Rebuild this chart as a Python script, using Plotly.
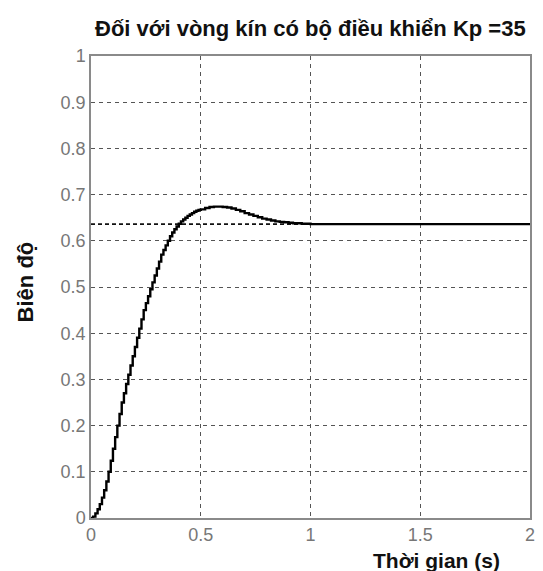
import plotly.graph_objects as go

# Step response
time_s = [0.00, 0.01, 0.02, 0.03, 0.04, 0.05, 0.06, 0.07, 0.08, 0.09,
          0.10, 0.11, 0.12, 0.13, 0.14, 0.15, 0.16, 0.17, 0.18, 0.19,
          0.20, 0.21, 0.22, 0.23, 0.24, 0.25, 0.26, 0.27, 0.28, 0.29,
          0.30, 0.31, 0.32, 0.33, 0.34, 0.35, 0.36, 0.37, 0.38, 0.39,
          0.40, 0.41, 0.42, 0.43, 0.44, 0.45, 0.46, 0.47, 0.48, 0.49,
          0.50, 0.52, 0.54, 0.56, 0.58,
          0.60, 0.62, 0.64, 0.66, 0.68, 0.70, 0.72, 0.74, 0.76, 0.78,
          0.80, 0.82, 0.84, 0.86, 0.88, 0.90, 0.92, 0.94, 0.96, 0.98,
          1.00, 2.00]
amplitude = [0.000, 0.003, 0.010, 0.019, 0.030, 0.044, 0.060, 0.079, 0.100, 0.124,
             0.150, 0.175, 0.200, 0.225, 0.250, 0.270, 0.290, 0.310, 0.330, 0.350,
             0.370, 0.390, 0.410, 0.430, 0.450, 0.465, 0.480, 0.495, 0.510, 0.525,
             0.540, 0.555, 0.570, 0.580, 0.590, 0.600, 0.610, 0.618, 0.625, 0.631,
             0.637, 0.642, 0.646, 0.650, 0.654, 0.657, 0.660, 0.663, 0.665, 0.667,
             0.668, 0.671, 0.673, 0.674, 0.674,
             0.673, 0.672, 0.670, 0.667, 0.664, 0.660, 0.657, 0.654, 0.651, 0.648,
             0.646, 0.644, 0.642, 0.641, 0.640, 0.639, 0.638, 0.638, 0.637, 0.637,
             0.636, 0.636]
steady_x = [0, 2]
steady_y = [0.636, 0.636]

x_ticks = [0, 0.5, 1, 1.5, 2]
x_tick_text = ["0", "0.5", "1", "1.5", "2"]
y_ticks = [0, 0.1, 0.2, 0.3, 0.4, 0.5, 0.6, 0.7, 0.8, 0.9, 1]
y_tick_text = ["0", "0.1", "0.2", "0.3", "0.4", "0.5", "0.6", "0.7", "0.8", "0.9", "1"]

title_text = "Đối với vòng kín có bộ điều khiển Kp =35"
x_title = "Thời gian (s)"
y_title = "Biên độ"

FONT = "Arial, 'Liberation Sans', sans-serif"

fig = go.Figure()
fig.add_trace(go.Scatter(x=steady_x, y=steady_y, mode="lines",
                         line=dict(color="#111111", width=1.6, dash="4px,3px"),
                         hoverinfo="skip", showlegend=False))
fig.add_trace(go.Scatter(x=time_s, y=amplitude, mode="lines", line_shape="hv",
                         line=dict(color="#000000", width=2.4), showlegend=False))

# page body has an 8px default margin: figure is sized/offset to compensate
fig.update_layout(
    width=535, height=563,
    margin=dict(l=83, r=8, t=48, b=53),
    paper_bgcolor="white", plot_bgcolor="white",
    font=dict(family=FONT, color="#777777", size=18),
    showlegend=False,
    annotations=[
        dict(text="<b>" + title_text + "</b>", xref="paper", yref="paper",
             x=0.5, y=1, yshift=28, xanchor="center", yanchor="middle",
             showarrow=False, font=dict(family=FONT, size=22, color="#111111")),
        dict(text="<b>" + x_title + "</b>", xref="paper", yref="paper",
             x=0.786, y=0, yshift=-42, xanchor="center", yanchor="middle",
             showarrow=False, font=dict(family=FONT, size=21, color="#111111")),
        dict(text="<b>" + y_title + "</b>", xref="paper", yref="paper",
             x=0, xshift=-66, y=0.51, xanchor="center", yanchor="middle",
             textangle=-90, showarrow=False,
             font=dict(family=FONT, size=22, color="#111111")),
    ],
)
fig.update_xaxes(range=[0, 2], tickvals=x_ticks, ticktext=x_tick_text,
                 showgrid=True, gridcolor="#555555", griddash="4px,4px", gridwidth=1,
                 showline=True, linecolor="#8a8a8a", linewidth=1.5, mirror=True,
                 zeroline=False, ticks="", tickfont=dict(size=18, color="#777777"))
fig.update_yaxes(range=[0, 1], tickvals=y_ticks, ticktext=y_tick_text,
                 showgrid=True, gridcolor="#555555", griddash="4px,4px", gridwidth=1,
                 showline=True, linecolor="#8a8a8a", linewidth=1.5, mirror=True,
                 zeroline=False, ticks="", tickfont=dict(size=18, color="#777777"))

fig.write_html("out.html")
